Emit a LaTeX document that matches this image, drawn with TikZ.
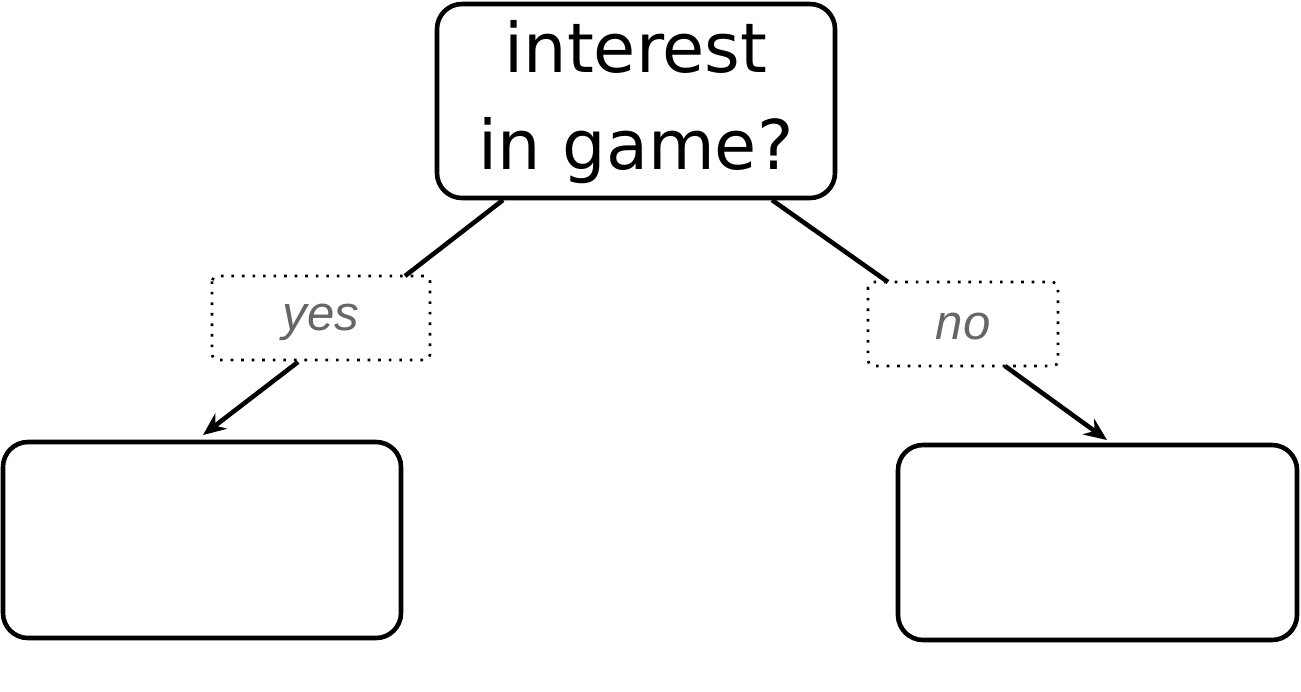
\documentclass[tikz,border=0pt]{standalone}
\usepackage{fontspec}
\setmainfont{DejaVu Sans}
\newfontfamily\arialf{Liberation Sans}
\usetikzlibrary{arrows.meta}
\begin{document}
\begin{tikzpicture}[x=0.02cm,y=-0.02cm,
  box/.style={draw,line width=2.6pt,rounded corners=0.5cm},
  lbl/.style={draw,line width=1.5pt,dash pattern=on 1.5pt off 4.5pt,rounded corners=3pt},
  conn/.style={line width=2.6pt},
  arr/.style={conn,-{Stealth[length=13pt,width=11pt]}},
  lbltxt/.style={font=\arialf\itshape\fontsize{28}{30}\selectfont,text=black!60}]
\useasboundingbox (0,0) rectangle (1301,691);
\draw[box] (437,4) rectangle (835,198);
\node[align=center,font=\fontsize{39}{55}\selectfont] (top) at (636,102) {interest\\in game?};
\draw[lbl] (212,276) rectangle (430,360);
\node[lbltxt] (yes) at (321,322) {yes};
\draw[lbl] (868,282) rectangle (1058,366);
\node[lbltxt] (no) at (963,327) {no};
\draw[box] (3,442) rectangle (401,638);
\node (lb) at (202,540) {};
\draw[box] (898,445) rectangle (1297,640);
\node (rb) at (1097,542) {};
\coordinate (t1) at (503,200); \coordinate (y1) at (405,276);
\coordinate (y2) at (298,362); \coordinate (l1) at (203,435);
\coordinate (t2) at (772,200); \coordinate (n1) at (888,282);
\coordinate (n2) at (1005,366); \coordinate (r1) at (1107,440);
\draw[conn] (t1) -- (y1);
\draw[arr] (y2) -- (l1);
\draw[conn] (t2) -- (n1);
\draw[arr] (n2) -- (r1);
\end{tikzpicture}
\end{document}
